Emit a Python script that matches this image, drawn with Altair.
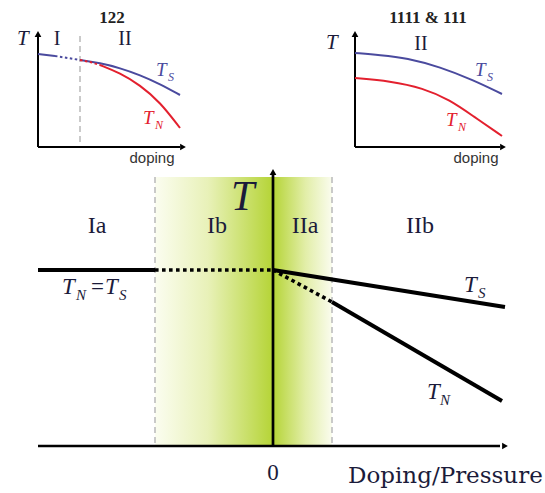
import altair as alt
import pandas as pd

W, H = 545, 493

# ---------------- data (schematic, canvas units: x right, y down) -------------
# Main phase diagram: axes
main_axes = {
    "baseline": ([38, 500], [446, 446]),
    "T_axis": ([273, 273], [446, 175]),
}
# Main phase diagram: transition lines
main_solid = {
    "TN_eq_TS": ([38, 155], [270, 270]),
    "TS_main": ([273, 505], [270, 307]),
    "TN_main": ([332, 502], [302, 401]),
}
main_dotted = {
    "Ib_dotted": ([155, 273], [270, 270]),
    "IIa_TN_dotted": ([273, 332], [270, 302]),
}
region_dashes = {
    "b1": ([155, 155], [177, 446]),
    "b2": ([332, 332], [177, 446]),
    "inset_b": ([80, 80], [36, 147]),
}
# Inset axes
inset_axes = {
    "l_v": ([38, 38], [147, 36]),
    "l_h": ([38, 180], [147, 147]),
    "r_v": ([355, 355], [147, 36]),
    "r_h": ([355, 500], [147, 147]),
}
# Inset curves (122)
blue_122_solid = {"a": ([38, 55], [54, 56]),
                  "b": ([80, 100, 120, 140, 160, 180], [60, 63, 68, 75, 84, 95])}
blue_122_dot = {"a": ([55, 68, 80], [56, 58, 60])}
red_122_dot = {"a": ([80, 90, 100], [60, 62, 65])}
red_122_solid = {"a": ([100, 120, 140, 160, 180], [65, 73, 85, 102, 128])}
# Inset curves (1111 & 111)
blue_1111 = {"a": ([355, 380, 407, 440, 473, 502], [53, 55, 58, 67, 80, 94])}
red_1111 = {"a": ([355, 390, 423, 450, 473, 502], [78, 81, 88, 100, 116, 136])}

arrows_up = ([273, 38, 355], [172, 34, 34])
arrows_right = ([505, 183, 503], [446, 147, 147])

# Green gradient regions
grad_left = ([155], [273], [177], [446])
grad_right = ([273], [332], [177], [446])

NAVY = "#1b1b3a"
BLUE = "#4a4a9e"
RED = "#e3202e"

# texts: (text, x, y, size, color)
serif_center = [
    ("Ia", 97, 233, 24, NAVY), ("Ib", 217, 233, 24, NAVY),
    ("IIa", 305, 233, 24, NAVY), ("IIb", 420, 233, 24, NAVY),
    ("0", 273, 480, 23, NAVY),
    ("I", 57, 45, 20, NAVY), ("II", 125, 45, 20, NAVY), ("II", 421, 50, 20, NAVY),
]
serif_left = [("=", 91, 294, 23, NAVY)]
italic_left = [
    ("T", 231, 210, 42, NAVY),
    ("T", 62, 294, 23, NAVY), ("N", 76, 300, 15, NAVY),
    ("T", 105, 294, 23, NAVY), ("S", 119, 300, 15, NAVY),
    ("T", 464, 292, 23, NAVY), ("S", 478, 298, 15, NAVY),
    ("T", 427, 399, 23, NAVY), ("N", 440, 405, 15, NAVY),
    ("T", 17, 45, 21, NAVY), ("T", 326, 49, 21, NAVY),
    ("T", 156, 76, 19, BLUE), ("S", 168, 81, 12, BLUE),
    ("T", 143, 124, 19, RED), ("N", 155, 129, 12, RED),
    ("T", 475, 76, 19, BLUE), ("S", 487, 81, 12, BLUE),
    ("T", 446, 126, 19, RED), ("N", 458, 131, 12, RED),
]
bold_center = [("122", 112, 23, 17, "#222222"), ("1111 & 111", 428, 23, 17, "#222222")]
sans_center = [("doping", 152, 163, 15, "#333333"), ("doping", 476, 163, 15, "#333333")]
xlabel = [("Doping/Pressure", 348, 483, 23, NAVY)]

# ---------------- helpers -------------
X = alt.X("x:Q", scale=alt.Scale(domain=[0, W]), axis=None)
Y = alt.Y("y:Q", scale=alt.Scale(domain=[0, H], reverse=True), axis=None)


def lines_df(d):
    rows = []
    for k, (xs, ys) in d.items():
        for i, (a, b) in enumerate(zip(xs, ys)):
            rows.append({"id": k, "i": i, "x": a, "y": b})
    return pd.DataFrame(rows)


def line_layer(d, **kw):
    return alt.Chart(lines_df(d)).mark_line(**kw).encode(
        x=X, y=Y, detail="id:N", order="i:Q"
    )


def text_layer(items, **kw):
    df = pd.DataFrame(items, columns=["t", "x", "y", "s", "c"])
    return alt.Chart(df).mark_text(baseline="alphabetic", **kw).encode(
        x=X, y=Y, text="t:N",
        size=alt.Size("s:Q", scale=None, legend=None),
        color=alt.Color("c:N", scale=None, legend=None),
    )


def grad_layer(reg, stops):
    df = pd.DataFrame({"x": reg[0], "x2": reg[1], "y": reg[2], "y2": reg[3]})
    g = alt.Gradient(
        gradient="linear", x1=0, x2=1, y1=0, y2=0,
        stops=[alt.GradientStop(color=c, offset=o) for o, c in stops],
    )
    return alt.Chart(df).mark_rect(color=g, strokeWidth=0).encode(
        x=X, x2="x2:Q", y=Y, y2="y2:Q"
    )


GREEN = "#b5d436"
layers = [
    grad_layer(grad_left, [(0, "#fbfdf0"), (0.45, "#e8f1b8"), (1, GREEN)]),
    grad_layer(grad_right, [(0, GREEN), (0.55, "#e2eea8"), (1, "#fafcee")]),
    line_layer(region_dashes, color="#bdbdbd", strokeWidth=1.6, strokeDash=[6, 4]),
    line_layer(main_axes, color="black", strokeWidth=2.7),
    line_layer(main_solid, color="black", strokeWidth=4),
    line_layer(main_dotted, color="black", strokeWidth=3.6, strokeDash=[3.6, 3.4]),
    line_layer(inset_axes, color="black", strokeWidth=2),
    line_layer(blue_122_solid, color=BLUE, strokeWidth=2, interpolate="basis"),
    line_layer(blue_122_dot, color=BLUE, strokeWidth=2, strokeDash=[2.5, 2.5]),
    line_layer(red_122_dot, color=RED, strokeWidth=2, strokeDash=[2.5, 2.5]),
    line_layer(red_122_solid, color=RED, strokeWidth=2, interpolate="basis"),
    line_layer(blue_1111, color=BLUE, strokeWidth=2, interpolate="basis"),
    line_layer(red_1111, color=RED, strokeWidth=2, interpolate="basis"),
    alt.Chart(pd.DataFrame({"x": arrows_up[0], "y": arrows_up[1]})).mark_point(
        shape="triangle-up", filled=True, color="black", size=45, opacity=1
    ).encode(x=X, y=Y),
    alt.Chart(pd.DataFrame({"x": arrows_right[0], "y": arrows_right[1]})).mark_point(
        shape="triangle-right", filled=True, color="black", size=45, opacity=1
    ).encode(x=X, y=Y),
    text_layer(serif_center, font="Liberation Serif", align="center"),
    text_layer(serif_left, font="Liberation Serif", align="left"),
    text_layer(italic_left, font="Liberation Serif", fontStyle="italic", align="left"),
    text_layer(bold_center, font="Liberation Serif", fontWeight="bold", align="center"),
    text_layer(sans_center, font="Liberation Sans", align="center"),
    text_layer(xlabel, font="DejaVu Serif", align="left"),
]

chart = alt.layer(*layers).properties(
    width=W, height=H, padding=0, autosize=alt.AutoSizeParams(type="none"),
    background="white",
).configure_view(stroke=None)

chart.save("out.html", embed_options={"renderer": "svg", "actions": False})
